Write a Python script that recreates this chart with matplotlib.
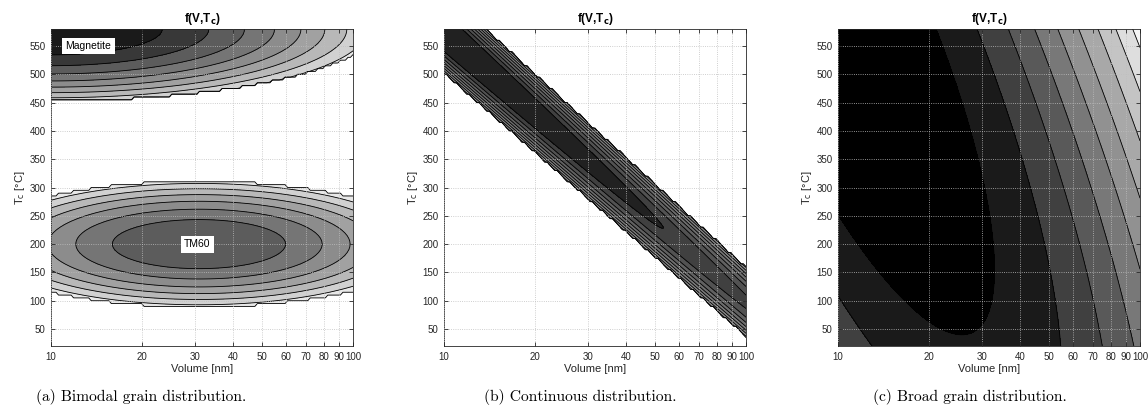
import numpy as np
import matplotlib
matplotlib.use('Agg')
import matplotlib.pyplot as plt

plt.rcParams['font.family'] = ['Liberation Sans', 'DejaVu Sans']

# grid of the distribution (volume on a log grid, Curie temperature in 5 degC steps)
volume = np.logspace(1, 2, 121)
tc = np.arange(20, 581, 5)
xv, tt = np.meshgrid(np.log10(volume), tc)

# (a) bimodal: log-density of two grain populations
mag_center = (1.0, 580.0)     # log10(V), Tc
mag_sigma = (0.262, 32.5)
mag_peak = 0.99
mag_cut = (1.08, 129.0)       # extent of the non-zero region
tm60_center = (1.49, 200.0)
tm60_sigma = (0.205, 31.0)
tm60_peak = -1.02
tm60_cut = (0.77, 113.5)
levels_a = [-7.9, -7, -6, -5, -4, -3, -2, -1, 0, 1.5]
grays_a = [0.91, 0.82, 0.72, 0.63, 0.55, 0.46, 0.36, 0.22, 0.10]

# (b) continuous: ridge along a line Tc(V)
ridge_t0 = 575.0      # Tc of the ridge at V = 10
ridge_slope = -477.0  # degC per decade
ridge_width = 24.3
ridge_peak0 = 2.05
ridge_decay = 2.81    # per decade
ridge_cut = -7.5
levels_b = [-8, -7, -6, -5, -4, -3, -2, -1, 0, 3]
grays_b = [0.64, 0.58, 0.53, 0.48, 0.43, 0.38, 0.32, 0.25, 0.13]

# (c) broad: tilted, wide distribution
broad_peak = 0.976
broad_tc = 600.0
broad_tc_width = 567.0
broad_mu0 = 1.44        # log10(V) of the mode at Tc = 0
broad_mu_slope = -0.00075
broad_x_width = 0.105
levels_c = [-12, -8, -7, -6, -5, -4, -3, -2, -1, 0, 2]
grays_c = [0.96, 0.87, 0.77, 0.66, 0.57, 0.47, 0.35, 0.25, 0.10, 0.0]


def blob(center, sigma, peak, cut):
    q = ((xv - center[0]) / sigma[0]) ** 2 + ((tt - center[1]) / sigma[1]) ** 2
    r = ((xv - center[0]) / cut[0]) ** 2 + ((tt - center[1]) / cut[1]) ** 2
    return np.where(r < 1, peak - q / 2, -50.0)


fa = np.maximum(blob(mag_center, mag_sigma, mag_peak, mag_cut),
                blob(tm60_center, tm60_sigma, tm60_peak, tm60_cut))

tr = ridge_t0 + ridge_slope * (xv - 1)
fb = ridge_peak0 - ridge_decay * (xv - 1) - ((tt - tr) / ridge_width) ** 2
fb = np.where(fb > ridge_cut, fb, -50.0)

mu = broad_mu0 + broad_mu_slope * tt
fc = broad_peak - ((tt - broad_tc) / broad_tc_width) ** 2 - (xv - mu) ** 2 / broad_x_width

fig = plt.figure(figsize=(11.48, 4.13), dpi=100)
lefts = [51, 444, 838]
fields = [(fa, levels_a, grays_a), (fb, levels_b, grays_b), (fc, levels_c, grays_c)]
captions = ['(a) Bimodal grain distribution.', '(b) Continuous distribution.',
            '(c) Broad grain distribution.']
cap_x = [141, 580, 970]

axes = []
for i, (f, lev, gr) in enumerate(fields):
    ax = fig.add_axes([lefts[i] / 1148, 67 / 413, 302 / 1148, 317 / 413])
    axes.append(ax)
    ax.contourf(volume, tc, f, levels=lev, colors=[str(g) for g in gr])
    ax.contour(volume, tc, f, levels=lev[:-1], colors='k', linewidths=0.6,
               negative_linestyles='solid')
    ax.set_xscale('log')
    ax.set_xlim(10, 100)
    ax.set_ylim(20, 580)
    xt = [10, 20, 30, 40, 50, 60, 70, 80, 90, 100]
    ax.set_xticks(xt)
    ax.set_xticklabels([str(v) for v in xt])
    ax.xaxis.set_minor_locator(matplotlib.ticker.NullLocator())
    ax.set_yticks(range(50, 551, 50))
    ax.tick_params(direction='in', top=True, right=True, labelsize=7,
                   length=3, width=0.6, colors='0.15', pad=4)
    ax.grid(True, linestyle=':', color='0.75', linewidth=0.6)
    ax.set_axisbelow(False)
    for s in ax.spines.values():
        s.set_color('0.15')
        s.set_linewidth(0.6)
    ax.set_xlabel('Volume [nm]', fontsize=8, color='0.15', labelpad=2)
    ax.set_ylabel(r'T$_\mathrm{c}$ [°C]', fontsize=8, color='0.15', labelpad=2)
    ax.set_title(r'f(V,T$_\mathbf{c}$)', fontsize=8.5, fontweight='bold', pad=5)
    fig.text(cap_x[i] / 1148, 1 - 397 / 413, captions[i], family='cmr10',
             fontsize=11.2, ha='center', va='center')

axes[0].text(13.3, 550, 'Magnetite', fontsize=7.5, ha='center', va='center',
             bbox=dict(facecolor='white', edgecolor='none', pad=2.5))
axes[0].text(30.5, 200, 'TM60', fontsize=7.5, ha='center', va='center',
             bbox=dict(facecolor='white', edgecolor='none', pad=2.5))

fig.savefig('out.png', dpi=100)
